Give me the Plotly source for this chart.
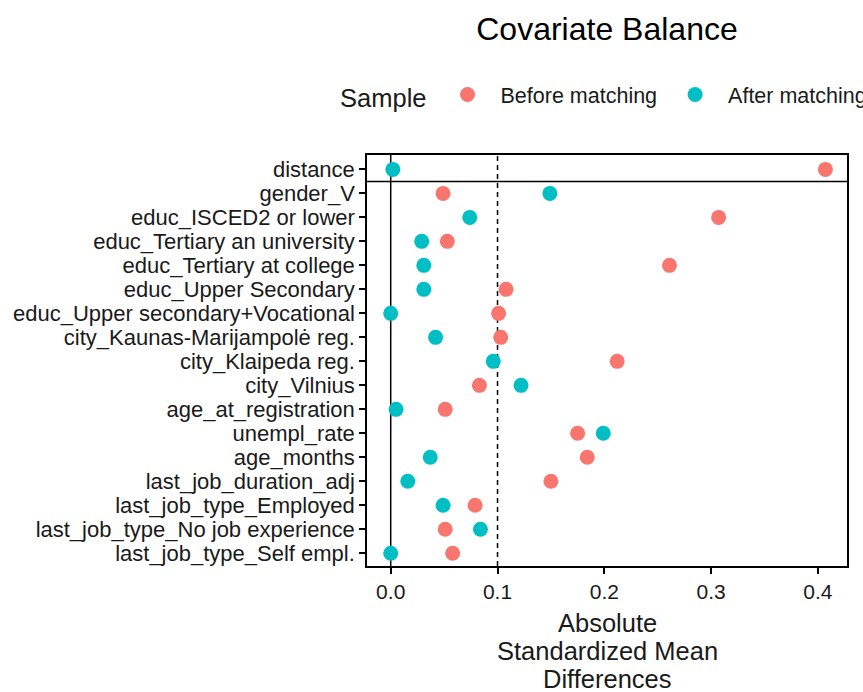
import plotly.graph_objects as go

covariates = [
    "distance",
    "gender_V",
    "educ_ISCED2 or lower",
    "educ_Tertiary an university",
    "educ_Tertiary at college",
    "educ_Upper Secondary",
    "educ_Upper secondary+Vocational",
    "city_Kaunas-Marijampolė reg.",
    "city_Klaipeda reg.",
    "city_Vilnius",
    "age_at_registration",
    "unempl_rate",
    "age_months",
    "last_job_duration_adj",
    "last_job_type_Employed",
    "last_job_type_No job experience",
    "last_job_type_Self empl.",
]

before_matching = [0.407, 0.049, 0.307, 0.053, 0.261, 0.108, 0.101, 0.103,
                   0.212, 0.083, 0.051, 0.175, 0.184, 0.150, 0.079, 0.051, 0.058]
after_matching = [0.002, 0.149, 0.074, 0.029, 0.031, 0.031, 0.000, 0.042,
                  0.096, 0.122, 0.005, 0.199, 0.037, 0.016, 0.049, 0.084, 0.000]

sample_names = ["Before matching", "After matching"]
sample_colors = ["#F8766D", "#00BFC4"]
x_ticks = [0.0, 0.1, 0.2, 0.3, 0.4]
threshold = 0.1
x_title_lines = ["Absolute", "Standardized Mean", "Differences"]

FONT = "Liberation Sans, Arial, sans-serif"
TXT = "#1a1a1a"

fig = go.Figure()
for name, vals, col in zip(sample_names, [before_matching, after_matching], sample_colors):
    fig.add_trace(go.Scatter(
        x=vals, y=covariates, mode="markers", name=name,
        marker=dict(size=15, color=col, line=dict(width=0)),
    ))

# reference lines
fig.add_shape(type="line", xref="x", yref="paper", x0=0, x1=0, y0=0, y1=1,
              line=dict(color="black", width=1.5), layer="below")
fig.add_shape(type="line", xref="x", yref="paper", x0=threshold, x1=threshold, y0=0, y1=1,
              line=dict(color="black", width=1.5, dash="5px,4px"), layer="below")
fig.add_shape(type="line", xref="paper", yref="y", x0=0, x1=1, y0=0.5, y1=0.5,
              line=dict(color="black", width=1.5), layer="below")

# x axis title lines
centers_px = [623.0, 651.0, 679.0]
for txt, py in zip(x_title_lines, centers_px):
    fig.add_annotation(text=txt, xref="paper", yref="paper", x=0.5, y=(566 - py) / 411,
                       xanchor="center", yanchor="middle", showarrow=False,
                       font=dict(family=FONT, size=25.5, color=TXT))

fig.update_layout(
    width=863, height=692,
    margin=dict(l=367, r=16, t=155, b=126, autoexpand=False),
    paper_bgcolor="white", plot_bgcolor="white",
    font=dict(family=FONT, color=TXT),
    title=dict(text="Covariate Balance", x=0.5, xref="paper", xanchor="center",
               y=1 - 29 / 692, yref="container", yanchor="middle",
               font=dict(family=FONT, size=32, color="black")),
    showlegend=True,
    legend=dict(
        orientation="h", x=-0.0603, xanchor="left", y=1.1436, yanchor="middle",
        xref="paper", yref="paper",
        title=dict(text="Sample", side="left", font=dict(family=FONT, size=25.5, color=TXT)),
        font=dict(family=FONT, size=21.5, color=TXT),
        itemwidth=56, bgcolor="rgba(0,0,0,0)", borderwidth=0,
    ),
    xaxis=dict(
        range=[-0.0222, 0.4272], tickvals=x_ticks, tickformat=".1f",
        showgrid=False, zeroline=False,
        showline=True, mirror=True, linecolor="black", linewidth=1.5,
        ticks="outside", ticklen=6, tickwidth=1.5, tickcolor="black",
        tickfont=dict(family=FONT, size=21, color=TXT),
    ),
    yaxis=dict(
        type="category", categoryorder="array", categoryarray=covariates,
        tickmode="array", tickvals=covariates, ticktext=covariates,
        range=[16.53, -0.6],
        showgrid=False, zeroline=False,
        showline=True, mirror=True, linecolor="black", linewidth=1.5,
        ticks="outside", ticklen=6, tickwidth=1.5, tickcolor="black",
        tickfont=dict(family=FONT, size=22, color=TXT),
    ),
)

fig.write_html("out.html")
